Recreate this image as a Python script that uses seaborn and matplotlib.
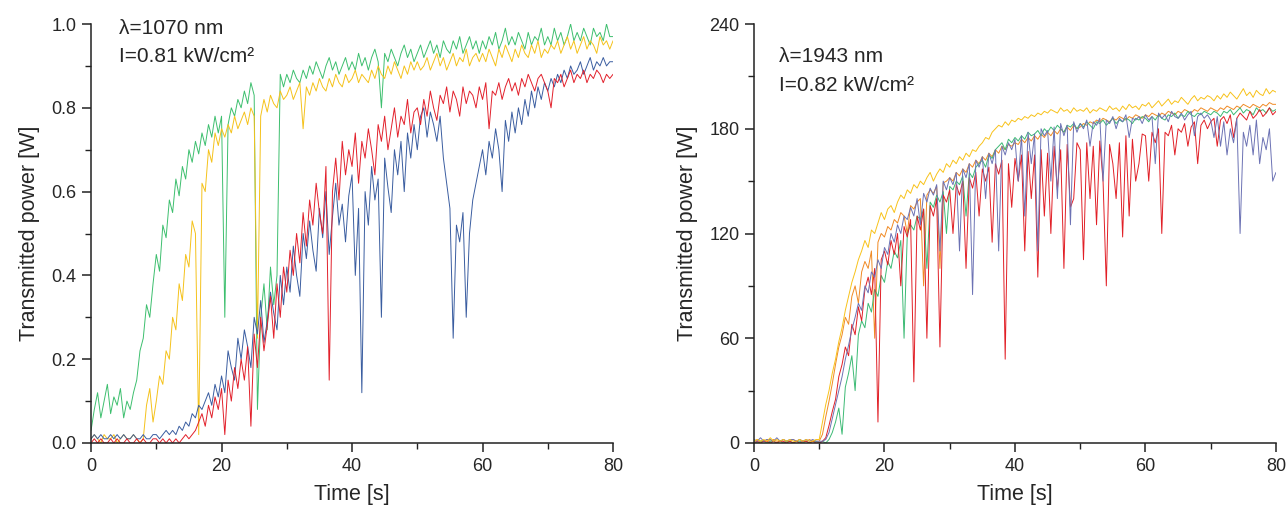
import numpy as np
import pandas as pd
import seaborn as sns
import matplotlib.pyplot as plt
from matplotlib.ticker import MultipleLocator

sns.set_theme(style="ticks")
plt.rcParams['font.family'] = ['Liberation Sans', 'DejaVu Sans']

# time axis, one sample every 0.5 s
time_s = np.arange(0, 80.5, 0.5)

#%% 1070 nm traces, values in units of 0.01 W (rows = 10 s)
green_1070 = [
    3, 8, 12, 6, 10, 14, 7, 11, 9, 13, 6, 10, 8, 12, 15, 22, 25, 33, 30, 38,
    45, 41, 52, 49, 58, 55, 63, 59, 66, 63, 70, 67, 72, 69, 74, 71, 76, 73, 78, 74,
    78, 30, 76, 80, 78, 82, 80, 84, 81, 86, 83, 8, 30, 38, 27, 42, 33, 40, 88, 85,
    88, 86, 89, 87, 86, 89, 87, 90, 88, 91, 89, 87, 90, 92, 89, 91, 88, 90, 92, 89,
    91, 89, 93, 90, 92, 89, 92, 94, 91, 80, 93, 91, 94, 92, 90, 93, 95, 92, 94, 91,
    93, 95, 92, 94, 96, 93, 95, 92, 96, 94, 93, 96, 94, 97, 93, 95, 97, 94, 96, 93,
    96, 94, 97, 95, 98, 94, 96, 99, 95, 97, 95, 98, 96, 94, 98, 95, 97, 96, 99, 95,
    97, 95, 99, 96, 98, 95, 97, 100, 96, 98, 96, 99, 97, 95, 99, 97, 98, 96, 100, 97,
    97]
yellow_1070 = [
    1, 2, 1, 0, 2, 1, 1, 2, 0, 1, 2, 1, 1, 2, 1, 0, 1, 9, 13, 5,
    10, 16, 14, 22, 20, 30, 27, 38, 34, 45, 42, 53, 50, 2, 62, 60, 70, 67, 74, 71,
    75, 73, 76, 74, 78, 75, 77, 79, 76, 80, 78, 25, 78, 82, 79, 83, 81, 80, 84, 82,
    83, 85, 82, 84, 86, 75, 85, 83, 86, 84, 87, 85, 84, 87, 85, 88, 86, 85, 88, 86,
    87, 89, 86, 88, 87, 86, 89, 87, 90, 88, 87, 90, 88, 91, 89, 87, 90, 88, 91, 89,
    91, 89, 90, 92, 89, 91, 93, 90, 92, 89, 91, 93, 90, 92, 91, 94, 90, 92, 93, 91,
    93, 91, 94, 92, 90, 94, 92, 95, 93, 91, 94, 92, 95, 93, 92, 95, 93, 96, 92, 94,
    93, 95, 94, 96, 93, 95, 97, 94, 96, 93, 95, 97, 94, 96, 95, 93, 97, 95, 96, 94,
    96]
blue_1070 = [
    1, 2, 1, 2, 1, 1, 2, 1, 2, 1, 2, 1, 1, 2, 1, 1, 2, 1, 1, 2,
    2, 1, 2, 3, 2, 3, 2, 4, 3, 5, 4, 7, 6, 9, 8, 10, 12, 9, 14, 11,
    16, 12, 22, 18, 15, 25, 20, 27, 23, 18, 30, 26, 34, 24, 29, 36, 31, 27, 40, 33,
    42, 36, 47, 40, 35, 50, 44, 53, 46, 41, 56, 49, 60, 45, 54, 62, 52, 57, 48, 59,
    64, 40, 56, 12, 60, 52, 66, 58, 63, 30, 68, 61, 55, 70, 64, 72, 60, 74, 68, 76,
    70, 78, 80, 73, 79, 76, 72, 78, 68, 62, 56, 25, 52, 48, 55, 30, 50, 58, 62, 66,
    70, 64, 72, 68, 75, 70, 60, 77, 72, 79, 74, 80, 76, 82, 78, 84, 80, 85, 82, 86,
    84, 87, 85, 88, 86, 89, 87, 90, 88, 89, 91, 88, 90, 92, 89, 91, 90, 92, 90, 91,
    91]
red_1070 = [
    0, 1, 0, 1, 0, 0, 1, 0, 1, 0, 0, 1, 0, 0, 1, 0, 1, 0, 0, 1,
    1, 0, 1, 0, 1, 0, 1, 0, 1, 2, 1, 2, 3, 5, 7, 4, 9, 6, 11, 8,
    13, 2, 15, 10, 18, 13, 20, 15, 23, 4, 26, 18, 30, 22, 28, 35, 25, 38, 30, 42,
    36, 46, 40, 50, 43, 55, 47, 58, 52, 62, 55, 50, 66, 15, 60, 68, 58, 72, 64, 70,
    66, 74, 62, 72, 68, 75, 70, 64, 76, 72, 78, 70, 75, 80, 73, 78, 76, 82, 74, 79,
    80, 76, 82, 78, 84, 80, 77, 83, 81, 85, 79, 84, 82, 78, 85, 81, 84, 83, 80, 85,
    82, 86, 75, 84, 83, 86, 82, 85, 87, 84, 86, 83, 87, 85, 88, 86, 84, 87, 88, 86,
    84, 80, 87, 86, 88, 85, 87, 89, 86, 88, 87, 89, 86, 88, 87, 89, 88, 86, 88, 87,
    88]

#%% 1943 nm traces, values in W
orange_1943 = [
    1, 2, 1, 1, 2, 1, 2, 1, 1, 2, 1, 1, 2, 1, 2, 1, 1, 2, 1, 1,
    1, 5, 15, 24, 34, 45, 55, 62, 72, 68, 84, 90, 80, 98, 104, 100, 110, 60, 115, 120,
    118, 124, 122, 128, 126, 132, 130, 120, 136, 134, 138, 140, 90, 142, 145, 143, 147, 100, 149, 150,
    152, 150, 155, 153, 157, 155, 160, 158, 162, 160, 164, 162, 166, 164, 168, 166, 170, 168, 171, 170,
    172, 171, 174, 172, 175, 173, 176, 174, 177, 175, 178, 176, 179, 177, 180, 178, 181, 179, 182, 180,
    181, 183, 182, 184, 183, 185, 184, 186, 185, 184, 186, 185, 187, 186, 185, 187, 186, 188, 187, 186,
    188, 187, 189, 188, 187, 189, 188, 190, 189, 188, 190, 189, 191, 190, 189, 191, 190, 192, 191, 190,
    192, 191, 190, 192, 191, 193, 192, 191, 193, 192, 194, 193, 192, 194, 193, 192, 194, 193, 195, 194,
    194]
green_1943 = [
    1, 0, 1, 1, 0, 1, 1, 0, 1, 0, 1, 1, 0, 1, 1, 0, 1, 0, 1, 1,
    0, 1, 0, 2, 6, 12, 20, 5, 32, 40, 50, 30, 62, 70, 66, 80, 75, 88, 84, 96,
    92, 104, 100, 110, 106, 116, 60, 120, 125, 122, 130, 128, 134, 100, 138, 135, 142, 138, 144, 120,
    147, 145, 150, 148, 153, 130, 155, 152, 158, 160, 162, 158, 165, 163, 168, 170, 172, 168, 174, 172,
    175, 173, 176, 174, 178, 176, 177, 179, 176, 180, 178, 181, 179, 182, 180, 178, 182, 181, 183, 180,
    183, 181, 184, 182, 180, 184, 183, 185, 182, 184, 186, 183, 185, 184, 186, 185, 183, 186, 185, 187,
    186, 184, 187, 185, 188, 186, 185, 188, 187, 189, 186, 188, 187, 190, 188, 187, 189, 188, 190, 189,
    188, 190, 189, 187, 190, 189, 191, 188, 190, 192, 189, 191, 190, 188, 192, 190, 191, 189, 192, 190,
    191]
red_1943 = [
    0, 1, 0, 1, 1, 0, 1, 0, 1, 1, 0, 1, 0, 1, 0, 1, 1, 0, 1, 0,
    0, 1, 3, 10, 18, 25, 38, 45, 55, 50, 68, 62, 78, 70, 88, 95, 85, 100, 12, 105,
    110, 102, 116, 108, 120, 90, 124, 118, 128, 35, 130, 122, 134, 60, 136, 130, 140, 55, 142, 138,
    145, 120, 148, 142, 150, 100, 152, 146, 155, 130, 157, 150, 158, 115, 160, 154, 162, 48, 160, 135,
    163, 150, 165, 110, 167, 140, 165, 95, 168, 130, 166, 120, 170, 145, 168, 100, 171, 135, 140, 172,
    168, 105, 172, 140, 170, 125, 173, 150, 90, 171, 160, 140, 172, 118, 176, 130, 174, 150, 160, 177,
    176, 150, 178, 172, 180, 120, 178, 176, 182, 165, 180, 178, 183, 170, 181, 184, 160, 182, 185, 180,
    184, 186, 170, 185, 187, 183, 188, 175, 186, 189, 187, 185, 190, 186, 188, 191, 187, 189, 192, 188,
    190]
blue_1943 = [
    2, 1, 3, 1, 2, 2, 1, 3, 1, 2, 1, 2, 2, 1, 2, 1, 2, 1, 2, 1,
    1, 1, 2, 6, 14, 22, 30, 38, 48, 56, 65, 72, 80, 76, 90, 86, 98, 95, 105, 100,
    112, 108, 120, 115, 125, 120, 130, 128, 135, 130, 140, 125, 143, 138, 146, 142, 148, 110, 150, 145,
    152, 148, 155, 110, 157, 152, 160, 85, 162, 158, 164, 140, 166, 160, 168, 110, 170, 165, 172, 168,
    174, 150, 176, 130, 178, 160, 177, 110, 180, 176, 179, 150, 181, 140, 183, 176, 182, 125, 184, 178,
    183, 180, 185, 170, 184, 182, 186, 150, 185, 183, 187, 180, 186, 184, 188, 175, 186, 185, 187, 183,
    188, 185, 187, 160, 189, 186, 188, 184, 190, 187, 186, 189, 185, 188, 190, 176, 187, 189, 186, 188,
    185, 175, 187, 170, 184, 165, 180, 172, 186, 120, 178, 170, 182, 165, 185, 160, 175, 168, 180, 150,
    155]
yellow_1943 = [
    1, 2, 1, 2, 1, 3, 1, 2, 1, 2, 1, 2, 1, 1, 2, 1, 2, 1, 1, 2,
    2, 12, 22, 30, 40, 48, 58, 66, 76, 84, 92, 98, 105, 110, 116, 112, 122, 120, 126, 132,
    128, 134, 136, 132, 138, 142, 140, 145, 143, 148, 146, 150, 148, 152, 155, 150, 154, 157, 155, 160,
    158, 162, 160, 164, 162, 166, 164, 168, 167, 170, 172, 175, 174, 178, 180, 182, 181, 184, 182, 185,
    184, 186, 185, 187, 186, 188, 187, 189, 188, 190, 189, 191, 190, 189, 192, 190, 191, 189, 192, 190,
    191, 190, 192, 189, 191, 190, 192, 191, 190, 193, 191, 192, 190, 193, 191, 194, 192, 193, 191, 194,
    193, 195, 192, 194, 196, 193, 195, 197, 194, 196, 195, 198, 196, 194, 197, 199, 196, 198, 197, 199,
    198, 196, 199, 197, 200, 198, 201, 199, 197, 200, 203, 199, 201, 198, 202, 200, 199, 203, 200, 202,
    201]

#%% long-form tables
left = pd.DataFrame({"Time": np.tile(time_s, 4),
                     "Power": np.concatenate([green_1070, yellow_1070, blue_1070, red_1070]) / 100,
                     "Run": np.repeat(["green", "yellow", "blue", "red"], len(time_s))})
right = pd.DataFrame({"Time": np.tile(time_s, 5),
                      "Power": np.concatenate([orange_1943, green_1943, red_1943, blue_1943, yellow_1943]),
                      "Run": np.repeat(["orange", "green", "red", "blue", "yellow"], len(time_s))})

pal_left = {"green": "#3dbf6e", "yellow": "#f5c21b", "blue": "#3a5da0", "red": "#e2202b"}
pal_right = {"orange": "#f08a24", "green": "#3cba74", "red": "#e11f26",
             "blue": "#6c72b4", "yellow": "#f8c21a"}

fig = plt.figure(figsize=(12.86, 5.09), dpi=100)
ax1 = fig.add_axes([0.0708, 0.1297, 0.4059, 0.8231])
ax2 = fig.add_axes([0.5863, 0.1297, 0.4059, 0.8231])

sns.lineplot(data=left, x="Time", y="Power", hue="Run", palette=pal_left,
             estimator=None, linewidth=0.7, legend=False, ax=ax1)
sns.lineplot(data=right, x="Time", y="Power", hue="Run", palette=pal_right,
             estimator=None, linewidth=0.7, legend=False, ax=ax2)

for ax, ymax, ystep in [(ax1, 1.0, 0.2), (ax2, 240, 60)]:
    ax.set_xlim(0, 80)
    ax.set_ylim(0, ymax)
    ax.xaxis.set_major_locator(MultipleLocator(20))
    ax.xaxis.set_minor_locator(MultipleLocator(10))
    ax.yaxis.set_major_locator(MultipleLocator(ystep))
    ax.yaxis.set_minor_locator(MultipleLocator(ystep / 2))
    ax.tick_params(which="major", direction="out", length=6.5, width=1.1, labelsize=13,
                   pad=4, color="#222222")
    ax.tick_params(which="minor", direction="out", length=4, width=1.0, color="#222222")
    ax.set_xlabel("Time [s]", fontsize=15.5, labelpad=7)
    ax.set_ylabel("Transmitted power [W]", fontsize=15.5, labelpad=8)
    for s in ["left", "bottom"]:
        ax.spines[s].set_linewidth(1.1)
        ax.spines[s].set_color("#222222")
    sns.despine(ax=ax)

ax1.yaxis.set_major_formatter(plt.FormatStrFormatter("%.1f"))

ax1.text(0.053, 0.99, "λ=1070 nm", transform=ax1.transAxes, fontsize=15, va="center")
ax1.text(0.053, 0.922, "I=0.81 kW/cm²", transform=ax1.transAxes, fontsize=15, va="center")
ax2.text(0.048, 0.922, "λ=1943 nm", transform=ax2.transAxes, fontsize=15, va="center")
ax2.text(0.048, 0.854, "I=0.82 kW/cm²", transform=ax2.transAxes, fontsize=15, va="center")

fig.savefig("out.png", dpi=100)
